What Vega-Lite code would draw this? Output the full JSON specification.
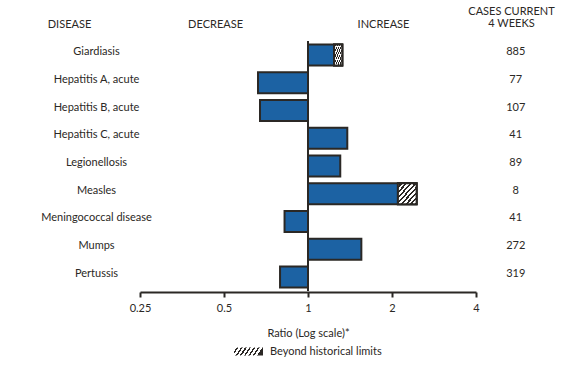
{
  "$schema": "https://vega.github.io/schema/vega-lite/v6.json",
  "width": 336,
  "height": 250,
  "autosize": "none",
  "padding": {"left": 140, "top": 41, "right": 85, "bottom": 75},
  "config": {"font": "Lato", "view": {"stroke": null}},
  "data": {
    "values": [
      {"disease": "Giardiasis", "ratio": 1.327, "limit": 1.24, "status": "Beyond historical limits", "count": 885},
      {"disease": "Hepatitis A, acute", "ratio": 0.662, "count": 77},
      {"disease": "Hepatitis B, acute", "ratio": 0.673, "count": 107},
      {"disease": "Hepatitis C, acute", "ratio": 1.383, "count": 41},
      {"disease": "Legionellosis", "ratio": 1.305, "count": 89},
      {"disease": "Measles", "ratio": 2.45, "limit": 2.1, "status": "Beyond historical limits", "count": 8},
      {"disease": "Meningococcal disease", "ratio": 0.824, "count": 41},
      {"disease": "Mumps", "ratio": 1.553, "count": 272},
      {"disease": "Pertussis", "ratio": 0.794, "count": 319}
    ]
  },
  "resolve": {"axis": {"x": "independent", "y": "independent"}},
  "layer": [
    {
      "mark": {"type": "bar", "fill": "#1c62a3", "stroke": "#2b2825", "strokeWidth": 2},
      "encoding": {
        "y": {
          "field": "disease", "type": "nominal", "sort": null,
          "scale": {"paddingInner": 0.25, "paddingOuter": 0.13},
          "axis": {
            "orient": "left", "ticks": false, "domain": false, "grid": false,
            "labelAlign": "center", "labelPadding": 44, "labelBaseline": "alphabetic", "labelOffset": 0,
            "labelFontSize": 11, "labelColor": "#2b2825",
            "title": "DISEASE", "titleAngle": 0, "titleAlign": "center", "titleBaseline": "alphabetic",
            "titleX": -71, "titleY": -13.7, "titleFontSize": 11, "titleFontWeight": "normal", "titleColor": "#2b2825"
          }
        },
        "x": {
          "field": "ratio", "type": "quantitative",
          "scale": {"type": "log", "domain": [0.25, 4], "nice": false},
          "axis": {
            "orient": "bottom", "values": [0.25, 0.5, 1, 2, 4], "format": "~g", "grid": false,
            "offset": 1, "domainColor": "#2b2825", "domainWidth": 2,
            "tickColor": "#2b2825", "tickWidth": 2, "tickSize": 5,
            "labelFlush": false, "labelOverlap": false, "labelPadding": 5,
            "labelFontSize": 11, "labelColor": "#2b2825",
            "title": "Ratio (Log scale)*", "titleFontSize": 11, "titleFontWeight": "normal", "titleColor": "#2b2825",
            "titleBaseline": "alphabetic", "titleY": 44.5
          }
        },
        "x2": {"datum": 1}
      }
    },
    {
      "transform": [{"filter": "datum.status != null"}],
      "mark": {
        "type": "bar", "stroke": "#2b2825", "strokeWidth": 2,
        "fill": {
          "gradient": "linear", "x1": 0, "y1": 0, "x2": 1, "y2": 0.185,
          "stops": [
            {"offset": 0, "color": "#ffffff"}, {"offset": 0.0857, "color": "#ffffff"}, {"offset": 0.0857, "color": "#2b2825"}, {"offset": 0.1429, "color": "#2b2825"},
            {"offset": 0.1429, "color": "#ffffff"}, {"offset": 0.2286, "color": "#ffffff"}, {"offset": 0.2286, "color": "#2b2825"}, {"offset": 0.2857, "color": "#2b2825"},
            {"offset": 0.2857, "color": "#ffffff"}, {"offset": 0.3714, "color": "#ffffff"}, {"offset": 0.3714, "color": "#2b2825"}, {"offset": 0.4286, "color": "#2b2825"},
            {"offset": 0.4286, "color": "#ffffff"}, {"offset": 0.5143, "color": "#ffffff"}, {"offset": 0.5143, "color": "#2b2825"}, {"offset": 0.5714, "color": "#2b2825"},
            {"offset": 0.5714, "color": "#ffffff"}, {"offset": 0.6571, "color": "#ffffff"}, {"offset": 0.6571, "color": "#2b2825"}, {"offset": 0.7143, "color": "#2b2825"},
            {"offset": 0.7143, "color": "#ffffff"}, {"offset": 0.8, "color": "#ffffff"}, {"offset": 0.8, "color": "#2b2825"}, {"offset": 0.8571, "color": "#2b2825"},
            {"offset": 0.8571, "color": "#ffffff"}, {"offset": 0.9429, "color": "#ffffff"}, {"offset": 0.9429, "color": "#2b2825"}, {"offset": 1, "color": "#2b2825"}
          ]
        }
      },
      "encoding": {
        "y": {"field": "disease", "type": "nominal", "sort": null, "axis": null},
        "x": {"field": "limit", "type": "quantitative", "scale": {"type": "log", "domain": [0.25, 4], "nice": false}, "axis": null},
        "x2": {"field": "ratio"},
        "strokeDash": {
          "field": "status", "type": "nominal",
          "scale": {"range": [[1, 0]]},
          "legend": {
            "orient": "none", "legendX": 93, "legendY": 295, "title": null,
            "symbolType": "M-1,-0.276H1V0.276H-1Z", "symbolSize": 841,
            "symbolStrokeColor": "#2b2825", "symbolStrokeWidth": 1.5,
            "labelFontSize": 11, "labelColor": "#2b2825", "labelOffset": 6
          }
        }
      }
    },
    {
      "transform": [{"filter": "datum.status != null"}],
      "mark": {
        "type": "bar", "stroke": "#2b2825", "strokeWidth": 2,
        "fill": {
          "gradient": "linear", "x1": 0, "y1": 0, "x2": 1, "y2": 1,
          "stops": [
            {"offset": 0, "color": "#ffffff"}, {"offset": 0.07, "color": "#ffffff"}, {"offset": 0.07, "color": "#2b2825"}, {"offset": 0.125, "color": "#2b2825"},
            {"offset": 0.125, "color": "#ffffff"}, {"offset": 0.195, "color": "#ffffff"}, {"offset": 0.195, "color": "#2b2825"}, {"offset": 0.25, "color": "#2b2825"},
            {"offset": 0.25, "color": "#ffffff"}, {"offset": 0.32, "color": "#ffffff"}, {"offset": 0.32, "color": "#2b2825"}, {"offset": 0.375, "color": "#2b2825"},
            {"offset": 0.375, "color": "#ffffff"}, {"offset": 0.445, "color": "#ffffff"}, {"offset": 0.445, "color": "#2b2825"}, {"offset": 0.5, "color": "#2b2825"},
            {"offset": 0.5, "color": "#ffffff"}, {"offset": 0.57, "color": "#ffffff"}, {"offset": 0.57, "color": "#2b2825"}, {"offset": 0.625, "color": "#2b2825"},
            {"offset": 0.625, "color": "#ffffff"}, {"offset": 0.695, "color": "#ffffff"}, {"offset": 0.695, "color": "#2b2825"}, {"offset": 0.75, "color": "#2b2825"},
            {"offset": 0.75, "color": "#ffffff"}, {"offset": 0.82, "color": "#ffffff"}, {"offset": 0.82, "color": "#2b2825"}, {"offset": 0.875, "color": "#2b2825"},
            {"offset": 0.875, "color": "#ffffff"}, {"offset": 0.945, "color": "#ffffff"}, {"offset": 0.945, "color": "#2b2825"}, {"offset": 1, "color": "#2b2825"}
          ]
        }
      },
      "encoding": {
        "y": {"field": "disease", "type": "nominal", "sort": null, "axis": null},
        "x": {"field": "limit", "type": "quantitative", "scale": {"type": "log", "domain": [0.25, 4], "nice": false}, "axis": null},
        "x2": {"field": "ratio"}
      }
    },
    {
      "mark": {"type": "rule", "stroke": "#2b2825", "strokeWidth": 2},
      "encoding": {
        "x": {
          "datum": 1,
          "scale": {"type": "log", "domain": [0.25, 4], "nice": false},
          "axis": {
            "orient": "top", "values": [0.4644, 1.857],
            "labelExpr": "datum.value < 1 ? 'DECREASE' : 'INCREASE'",
            "ticks": false, "domain": false, "grid": false, "tickSize": 0,
            "labelPadding": 13.7, "labelBaseline": "alphabetic", "labelFlush": false, "labelOverlap": false,
            "labelFontSize": 11, "labelColor": "#2b2825", "title": null
          }
        }
      }
    },
    {
      "mark": {"type": "text", "fontSize": 11, "color": "#2b2825", "baseline": "alphabetic", "dy": 0},
      "encoding": {
        "y": {
          "field": "disease", "type": "nominal", "sort": null,
          "axis": {
            "orient": "right", "labels": false, "ticks": false, "domain": false, "grid": false,
            "title": ["CASES CURRENT", "4 WEEKS"], "titleAngle": 0, "titleAlign": "center", "titleBaseline": "alphabetic",
            "titleX": 35, "titleY": -27, "titleLineHeight": 12.7,
            "titleFontSize": 11, "titleFontWeight": "normal", "titleColor": "#2b2825"
          }
        },
        "x": {"datum": 5.55, "scale": {"type": "log", "domain": [0.25, 4], "nice": false}, "axis": null},
        "text": {"field": "count", "type": "quantitative"}
      }
    }
  ]
}
